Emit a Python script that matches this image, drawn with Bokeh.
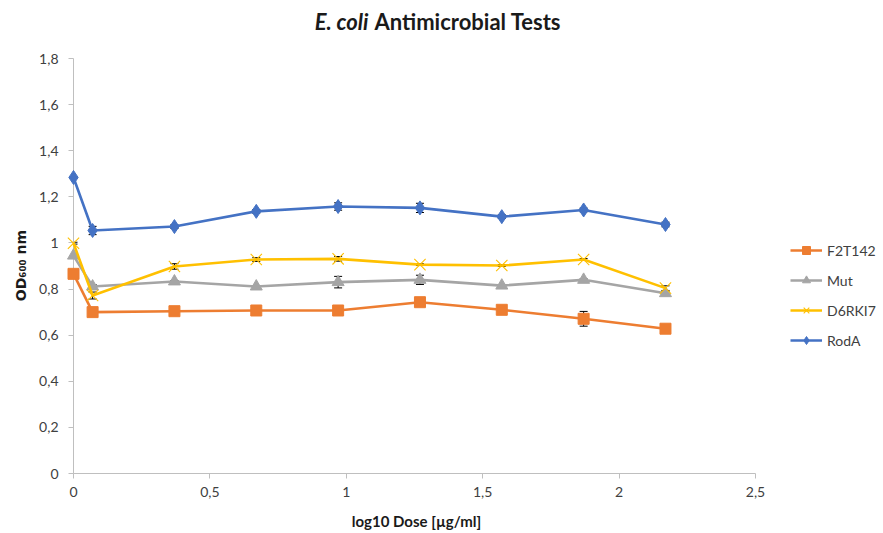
import numpy as np
from bokeh.plotting import figure
from bokeh.models import (ColumnDataSource, Range1d, FixedTicker, Whisker, TeeHead,
                          Legend, LegendItem, Label)
from bokeh.core.properties import value
from bokeh.embed import file_html
from bokeh.resources import INLINE

# ---- data ----
log_dose = [0, 0.07, 0.37, 0.67, 0.97, 1.27, 1.57, 1.87, 2.17]
series_names = ["F2T142", "Mut", "D6RKI7", "RodA"]
f2t142 = [0.866, 0.700, 0.704, 0.707, 0.707, 0.743, 0.710, 0.671, 0.628]
mut = [0.945, 0.811, 0.833, 0.811, 0.830, 0.840, 0.815, 0.840, 0.782]
d6rki7 = [0.999, 0.772, 0.898, 0.928, 0.931, 0.906, 0.902, 0.928, 0.804]
roda = [1.284, 1.054, 1.071, 1.137, 1.158, 1.152, 1.114, 1.143, 1.080]
f2t142_err = [0.004, 0.004, 0.004, 0.004, 0.004, 0.004, 0.004, 0.032, 0.004]
mut_err = [0.004, 0.008, 0.004, 0.004, 0.025, 0.020, 0.004, 0.004, 0.008]
d6rki7_err = [0.004, 0.015, 0.012, 0.008, 0.010, 0.004, 0.004, 0.004, 0.010]
roda_err = [0.004, 0.018, 0.008, 0.008, 0.016, 0.020, 0.008, 0.008, 0.010]
x_ticks = [0, 0.5, 1, 1.5, 2, 2.5]
x_tick_labels = ["0", "0,5", "1", "1,5", "2", "2,5"]
y_ticks = [0, 0.2, 0.4, 0.6, 0.8, 1.0, 1.2, 1.4, 1.6, 1.8]
y_tick_labels = ["0", "0,2", "0,4", "0,6", "0,8", "1", "1,2", "1,4", "1,6", "1,8"]
x_title = "log10 Dose [µg/ml]"
y_title = "OD₆₀₀ nm"

# ---- layout ----
W, H = 883, 533
LEFT, BOTTOM = 73, 60
AX_X_END_PX = 755   # pixel of x=2.5
AX_Y_TOP_PX = 58    # pixel of y=1.8
frame_w = W - LEFT
frame_h = H - BOTTOM
px_per_x = (AX_X_END_PX - LEFT) / 2.5
px_per_y = (frame_h - AX_Y_TOP_PX) / 1.8
x_end = frame_w / px_per_x
y_end = frame_h / px_per_y


def dx(px):   # canvas pixel -> data x
    return (px - LEFT) / px_per_x


def dy(py):   # canvas pixel -> data y
    return (frame_h - py) / px_per_y


FONT = "Lato"
TXT = "#404040"
AXC = "#bfbfbf"

p = figure(width=W, height=H, output_backend="svg", toolbar_location=None,
           x_range=Range1d(0, x_end), y_range=Range1d(0, y_end), title=None,
           min_border_left=LEFT, min_border_bottom=BOTTOM, min_border_top=0,
           min_border_right=0)
p.outline_line_color = None
p.grid.visible = False
p.background_fill_color = "white"
p.border_fill_color = "white"

for ax, ticks, labels in ((p.xaxis[0], x_ticks, x_tick_labels), (p.yaxis[0], y_ticks, y_tick_labels)):
    ax.ticker = FixedTicker(ticks=ticks)
    ax.major_label_overrides = {t: l for t, l in zip(ticks, labels)}
    ax.minor_tick_line_color = None
    ax.axis_line_color = AXC
    ax.major_tick_line_color = AXC
    ax.major_tick_in = 0
    ax.major_tick_out = 5
    ax.major_label_text_font = FONT
    ax.major_label_text_font_size = "14px"
    ax.major_label_text_color = TXT
p.xaxis[0].bounds = (0, 2.5)
p.yaxis[0].bounds = (0, 1.8)
p.xaxis[0].major_label_standoff = 8
p.yaxis[0].major_label_standoff = 10

colors = ["#ED7D31", "#A5A5A5", "#FFC000", "#4472C4"]
values = [f2t142, mut, d6rki7, roda]
errors = [f2t142_err, mut_err, d6rki7_err, roda_err]
items = []
for name, col, vals, errs in zip(series_names, colors, values, errors):
    v = np.array(vals)
    e = np.array(errs)
    src = ColumnDataSource(dict(x=log_dose, y=vals, upper=v + e, lower=v - e))
    lr = p.line("x", "y", source=src, line_color=col, line_width=2.6, level="annotation")
    p.add_layout(Whisker(base="x", upper="upper", lower="lower", source=src,
                         line_color="black", line_width=1,
                         upper_head=TeeHead(size=8, line_color="black", line_width=1),
                         lower_head=TeeHead(size=8, line_color="black", line_width=1)))
    if name == "F2T142":
        mr = p.scatter("x", "y", source=src, marker="square", size=11,
                       fill_color=col, line_color=col, level="annotation")
    elif name == "Mut":
        mr = p.scatter("x", "y", source=src, marker="triangle", size=12,
                       fill_color=col, line_color=col, level="annotation")
    elif name == "D6RKI7":
        mr = p.scatter("x", "y", source=src, marker="x", size=16,
                       line_color=col, line_width=1.1, level="annotation")
    else:
        mr = p.scatter("x", "y", source=src, marker="diamond", size=14,
                       fill_color=col, line_color=col, level="annotation")
    items.append(LegendItem(label=name, renderers=[lr, mr]))

legend = Legend(items=items, location=(717, 123), padding=0, margin=0,
                spacing=10, glyph_width=32, glyph_height=20, label_height=20,
                label_standoff=5, label_text_font=FONT, label_text_font_size="14px",
                label_text_color=TXT, background_fill_alpha=0, border_line_color=None)
p.add_layout(legend)

# title (mixed bold italic + bold)
p.add_layout(Label(x=368 - LEFT, y=frame_h - 21, x_units="screen", y_units="screen",
                   text="E. coli", text_font=FONT, text_font_size="22px",
                   text_font_style="bold italic", text_align="right",
                   text_baseline="middle", text_color="#1a1a1a"))
p.add_layout(Label(x=374 - LEFT, y=frame_h - 21, x_units="screen", y_units="screen",
                   text="Antimicrobial Tests", text_font=FONT, text_font_size="22px",
                   text_font_style="bold", text_align="left",
                   text_baseline="middle", text_color="#1a1a1a"))

# axis titles (drawn unclipped, outside the frame)
p.text(x=[dx(416)], y=[dy(520)], text=[x_title], text_font=value(FONT),
       text_font_size="15px", text_font_style="bold", text_align="center",
       text_baseline="middle", text_color="#1a1a1a", level="annotation")
p.text(x=[dx(20)], y=[dy(265)], text=[y_title], text_font=value("DejaVu Sans"),
       text_font_size="14px", text_font_style="bold", text_align="center",
       text_baseline="middle", angle=np.pi / 2, text_color="#1a1a1a",
       level="annotation")

open("out.html", "w").write(file_html(p, INLINE))
